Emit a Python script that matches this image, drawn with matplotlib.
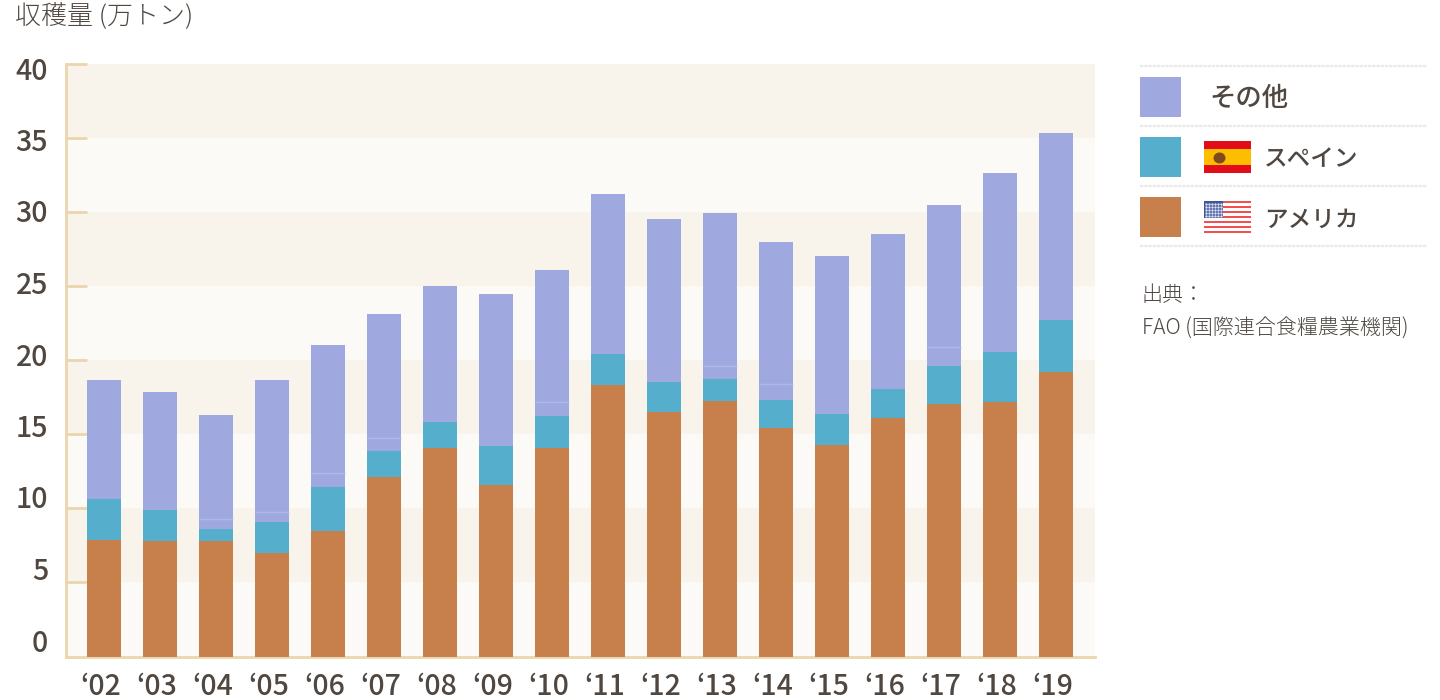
import matplotlib
matplotlib.use("Agg")
import matplotlib.pyplot as plt
from matplotlib.patches import Rectangle, Ellipse
from matplotlib.transforms import ScaledTranslation

plt.rcParams['font.family'] = ['Noto Sans CJK JP', 'DejaVu Sans']

years = ["‘02", "‘03", "‘04", "‘05", "‘06", "‘07", "‘08", "‘09", "‘10",
         "‘11", "‘12", "‘13", "‘14", "‘15", "‘16", "‘17", "‘18", "‘19"]
usa = [7.87, 7.77, 7.77, 7.0, 8.45, 12.1, 14.1, 11.6, 14.1,
       18.35, 16.5, 17.25, 15.45, 14.3, 16.1, 17.05, 17.2, 19.2]
spain = [2.77, 2.13, 0.83, 2.1, 3.0, 1.8, 1.75, 2.6, 2.15,
         2.1, 2.05, 1.5, 1.85, 2.1, 1.95, 2.55, 3.35, 3.55]
other = [8.04, 7.97, 7.7, 9.58, 9.6, 9.24, 9.18, 10.3, 9.85,
         10.8, 11.0, 11.2, 10.65, 10.65, 10.45, 10.85, 12.1, 12.6]
# faint seam lines inside the purple segment, only on some bars
seams = [None, None, 9.3, 9.77, 12.4, 14.77, None, None, 17.2,
         None, None, 19.63, 18.41, None, None, 20.9, None, None]
y_ticks = [0, 5, 10, 15, 20, 25, 30, 35, 40]

col_usa = "#c77f4b"
col_spain = "#55aecb"
col_other = "#a0a9df"
col_seam = "#b1b8e6"
col_text = "#4f4740"
col_axis = "#ead5ae"
band_dark = "#f8f4ec"
band_light = "#fbfaf6"

W, H = 1440, 700
fig = plt.figure(figsize=(W / 100, H / 100), dpi=100, facecolor="white")

# main axes placed in pixels
left, right, top, bottom = 66, 1095, 64, 656.5
ax = fig.add_axes([left / W, 1 - bottom / H, (right - left) / W, (bottom - top) / H])
ax.set_xlim(-0.679, 17.696)
ax.set_ylim(0, 40)
ax.set_facecolor(band_light)

for i in range(0, 40, 5):
    ax.axhspan(i + 0.03, i + 5.03, color=band_dark if i % 10 == 5 else band_light, lw=0, zorder=0)

x = list(range(len(years)))
b2 = [a + b for a, b in zip(usa, spain)]
bar_w = 34 / 56
ax.bar(x, usa, width=bar_w, color=col_usa, zorder=3)
ax.bar(x, spain, width=bar_w, bottom=usa, color=col_spain, zorder=3)
ax.bar(x, other, width=bar_w, bottom=b2, color=col_other, zorder=3)
for xi, s in zip(x, seams):
    if s is not None:
        ax.plot([xi - bar_w / 2, xi + bar_w / 2], [s, s], color=col_seam, lw=1, zorder=4,
                solid_capstyle="butt")

for s in ["top", "right"]:
    ax.spines[s].set_visible(False)
for s in ["left", "bottom"]:
    ax.spines[s].set_color(col_axis)
    ax.spines[s].set_linewidth(2)

ax.set_yticks(y_ticks)
ax.set_yticklabels([])
ax.set_xticks(x)
ax.set_xticklabels(years)
ax.tick_params(axis="x", length=0, pad=11, labelsize=20.5, labelcolor=col_text)
ax.tick_params(axis="y", length=0)
# labels sit a little left of the bar centres
shift = ScaledTranslation(-3 / 100, 0, fig.dpi_scale_trans)
for t in ax.get_xticklabels():
    t.set_fontweight("medium")
    t.set_transform(t.get_transform() + shift)
for v in y_ticks[1:]:
    ax.plot([0, 21 / 1029], [v, v], transform=ax.get_yaxis_transform(), color=col_axis,
            lw=2, zorder=2, clip_on=False, solid_capstyle="butt")

# overlay in pixel coordinates for the legend and notes
ov = fig.add_axes([0, 0, 1, 1])
ov.set_xlim(0, W)
ov.set_ylim(H, 0)
ov.axis("off")
ov.patch.set_alpha(0)

# the y labels are spaced tighter than the ticks in the original
for k, v in enumerate(y_ticks[::-1]):
    ov.text(48, 71 + k * 71.5, str(v), fontsize=20.5, color=col_text, va="center", ha="right",
            fontweight="medium")

ov.text(15, 17, "収穫量 (万トン)", fontsize=18.7, color=col_text, va="center", ha="left", fontweight="light")

for yy in [66, 126, 186, 246]:
    ov.plot([1140, 1427], [yy, yy], color="#e9e9e7", lw=1.6, ls=(0, (1.5, 0.4)))

ov.add_patch(Rectangle((1140, 77), 41, 40, color=col_other, lw=0))
ov.add_patch(Rectangle((1140, 137), 41, 40, color=col_spain, lw=0))
ov.add_patch(Rectangle((1140, 197), 41, 40, color=col_usa, lw=0))

ov.text(1209, 98, "その他", fontsize=19, color=col_text, va="center", fontweight="medium")
ov.text(1264, 160, "スペイン", fontsize=17, color=col_text, va="center", fontweight="medium")
ov.text(1264, 220, "アメリカ", fontsize=17, color=col_text, va="center", fontweight="medium")

# Spanish flag
ov.add_patch(Rectangle((1204, 141), 47, 32, color="#e30d17", lw=0))
ov.add_patch(Rectangle((1204, 149), 47, 16, color="#fdbd00", lw=0))
ov.add_patch(Ellipse((1219.5, 158), 12, 11, color="#7f4a1e", lw=0))

# US flag
ov.add_patch(Rectangle((1204, 201), 47, 32, color="white", lw=0))
for k in range(7):
    ov.add_patch(Rectangle((1204, 201 + k * 32 / 6.5), 47, 32 / 13, color="#f44f4f", lw=0))
ov.add_patch(Rectangle((1204, 201), 19, 17, color="#3f569c", lw=0))
for r in range(5):
    for c in range(6):
        ov.plot(1206 + c * 3, 203.5 + r * 3, ".", color="#dfe3f0", ms=1.5)

ov.text(1142, 295, "出典：", fontsize=15.1, color=col_text, va="center", fontweight="light")
ov.text(1142, 329, "FAO (国際連合食糧農業機関)", fontsize=15.1, color=col_text, va="center", fontweight="light")

fig.savefig("out.png", dpi=100, facecolor="white")
